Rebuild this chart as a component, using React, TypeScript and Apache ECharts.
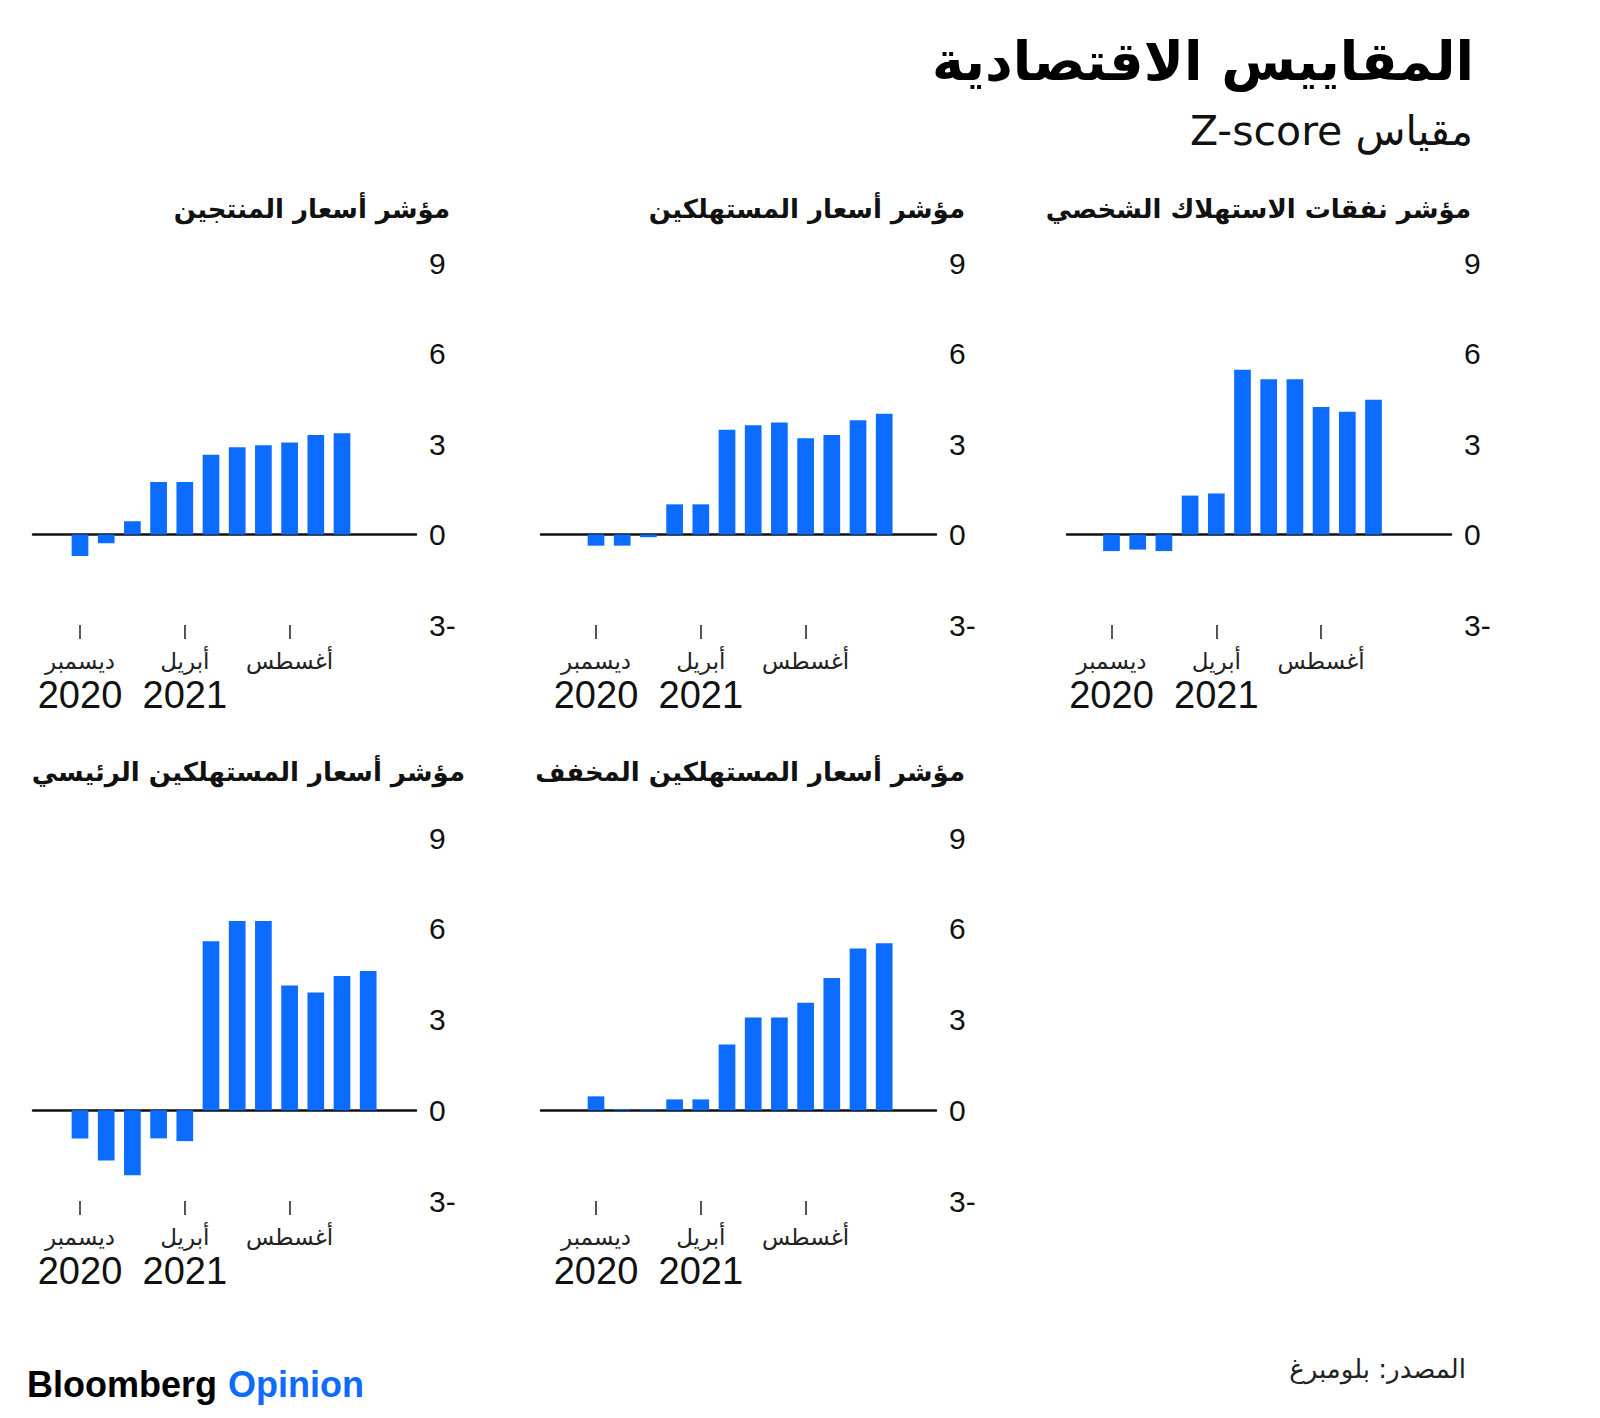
import React, { useEffect, useRef } from "react";
import * as echarts from "echarts";

// ---- data ----
const months = [
  "2020-12", "2021-01", "2021-02", "2021-03", "2021-04", "2021-05",
  "2021-06", "2021-07", "2021-08", "2021-09", "2021-10", "2021-11",
];
const pceValues = [-0.55, -0.5, -0.55, 1.29, 1.36, 5.46, 5.15, 5.15, 4.23, 4.07, 4.47];
const cpiValues = [-0.37, -0.37, -0.09, 1.0, 1.0, 3.47, 3.62, 3.71, 3.19, 3.3, 3.79, 4.0];
const ppiValues = [-0.71, -0.29, 0.44, 1.74, 1.74, 2.64, 2.89, 2.96, 3.05, 3.3, 3.36];
const coreCpiValues = [-0.93, -1.66, -2.15, -0.93, -1.02, 5.59, 6.26, 6.26, 4.12, 3.89, 4.44, 4.6];
const trimmedCpiValues = [0.46, 0.04, 0.03, 0.36, 0.36, 2.17, 3.07, 3.07, 3.55, 4.37, 5.35, 5.52];

const yMin = -3;
const yMax = 9;
const yInterval = 3;

const tickMonthIndex = [0, 4, 8];
const tickMonthLabels = ["ديسمبر", "أبريل", "أغسطس"];
const tickYearLabels = ["2020", "2021", ""];

const panelTitles = [
  "مؤشر نفقات الاستهلاك الشخصي",
  "مؤشر أسعار المستهلكين",
  "مؤشر أسعار المنتجين",
  "مؤشر أسعار المستهلكين الرئيسي",
  "مؤشر أسعار المستهلكين المخفف",
];
const panelValues = [pceValues, cpiValues, ppiValues, coreCpiValues, trimmedCpiValues];

const mainTitle = "المقاييس الاقتصادية";
const subTitle = "\u202Bمقياس Z-score\u202C";
const sourceText = "المصدر: بلومبرغ";

// ---- layout (positions/styles only) ----
const BAR_COLOR = "#0b6cff";
const MONTH_PX = 26.2;
const layouts = [
  { dec: 1111.5, left: 1067, right: 1451, top: 263, bottom: 625, titleX: 1471, titleY: 209 },
  { dec: 596, left: 541, right: 936, top: 263, bottom: 625, titleX: 965, titleY: 209 },
  { dec: 80, left: 33, right: 416, top: 263, bottom: 625, titleX: 450, titleY: 209 },
  { dec: 80, left: 33, right: 416, top: 838, bottom: 1201, titleX: 465, titleY: 772 },
  { dec: 596, left: 541, right: 936, top: 838, bottom: 1201, titleX: 965, titleY: 772 },
];

const ARABIC_FONT = '"DejaVu Sans", "Noto Sans", sans-serif';
const LATIN_FONT = '"Liberation Sans", Arial, sans-serif';

function buildOption() {
  const grid: any[] = [];
  const xAxis: any[] = [];
  const yAxis: any[] = [];
  const series: any[] = [];
  const graphic: any[] = [];

  layouts.forEach((l, i) => {
    grid.push({
      left: l.left,
      top: l.top,
      width: l.right - l.left,
      height: l.bottom - l.top,
      containLabel: false,
      outerBoundsMode: "none",
    });
    const xmin = (l.left - l.dec) / MONTH_PX;
    const xmax = (l.right - l.dec) / MONTH_PX;
    // zero line axis
    xAxis.push({
      type: "value",
      gridIndex: i,
      position: "bottom",
      min: xmin,
      max: xmax,
      axisLine: { show: true, onZero: true, lineStyle: { color: "#111", width: 2.5 } },
      axisTick: { show: false },
      axisLabel: { show: false },
      splitLine: { show: false },
    });
    // ticks + labels axis at the bottom
    xAxis.push({
      type: "value",
      gridIndex: i,
      position: "bottom",
      min: xmin,
      max: xmax,
      axisLine: { show: false, onZero: false },
      axisTick: {
        show: true,
        customValues: tickMonthIndex,
        length: 14,
        lineStyle: { color: "#555", width: 2 },
      },
      axisLabel: {
        show: true,
        customValues: tickMonthIndex,
        margin: 22,
        formatter: (v: number) => {
          const k = tickMonthIndex.indexOf(Math.round(v));
          if (k < 0) return "";
          const m = `{m|${tickMonthLabels[k]}}`;
          return tickYearLabels[k] ? `${m}\n{y|${tickYearLabels[k]}}` : m;
        },
        rich: {
          m: { fontSize: 23, lineHeight: 28, color: "#222", fontFamily: ARABIC_FONT },
          y: { fontSize: 38, lineHeight: 40, color: "#111", fontFamily: LATIN_FONT },
        },
      },
      splitLine: { show: false },
    });
    yAxis.push({
      type: "value",
      gridIndex: i,
      position: "right",
      min: yMin,
      max: yMax,
      interval: yInterval,
      axisLine: { show: false },
      axisTick: { show: false },
      splitLine: { show: false },
      axisLabel: {
        show: true,
        margin: 13,
        fontSize: 30,
        color: "#111",
        fontFamily: LATIN_FONT,
        formatter: (v: number) => (v < 0 ? `${-v}-` : `${v}`),
      },
    });
    series.push({
      type: "bar",
      name: panelTitles[i],
      xAxisIndex: i * 2,
      yAxisIndex: i,
      barWidth: 16.7,
      itemStyle: { color: BAR_COLOR },
      data: panelValues[i].map((v, k) => [k, v]),
      label: { show: false },
    });
    graphic.push({
      type: "text",
      x: l.titleX,
      y: l.titleY,
      style: {
        text: panelTitles[i],
        font: `bold 26px ${ARABIC_FONT}`,
        fill: "#111",
        textAlign: "right",
        textVerticalAlign: "middle",
      },
    });
  });

  graphic.push(
    {
      type: "text",
      x: 1474,
      y: 61,
      style: {
        text: mainTitle,
        font: `bold 54px ${ARABIC_FONT}`,
        fill: "#000",
        textAlign: "right",
        textVerticalAlign: "middle",
      },
    },
    {
      type: "text",
      x: 1473,
      y: 131,
      style: {
        text: subTitle,
        font: `41px ${ARABIC_FONT}`,
        fill: "#111",
        textAlign: "right",
        textVerticalAlign: "middle",
      },
    },
    {
      type: "text",
      x: 1466,
      y: 1369,
      style: {
        text: sourceText,
        font: `26px ${ARABIC_FONT}`,
        fill: "#222",
        textAlign: "right",
        textVerticalAlign: "middle",
      },
    },
    {
      type: "text",
      x: 27,
      y: 1384,
      style: {
        text: "Bloomberg",
        font: `bold 36px ${LATIN_FONT}`,
        fill: "#000",
        textAlign: "left",
        textVerticalAlign: "middle",
      },
    },
    {
      type: "text",
      x: 228,
      y: 1384,
      style: {
        text: "Opinion",
        font: `bold 36px ${LATIN_FONT}`,
        fill: BAR_COLOR,
        textAlign: "left",
        textVerticalAlign: "middle",
      },
    }
  );

  return {
    animation: false,
    backgroundColor: "#fff",
    grid,
    xAxis,
    yAxis,
    series,
    graphic,
  };
}

export default function App() {
  const ref = useRef<HTMLDivElement>(null);
  useEffect(() => {
    if (!ref.current) return;
    const chart = echarts.init(ref.current, undefined, { renderer: "svg" });
    chart.setOption(buildOption() as any);
    return () => chart.dispose();
  }, []);
  return (
    <div
      ref={ref}
      data-months={months.length}
      style={{ position: "absolute", left: 0, top: 0, width: 1600, height: 1418, background: "#fff" }}
    />
  );
}
